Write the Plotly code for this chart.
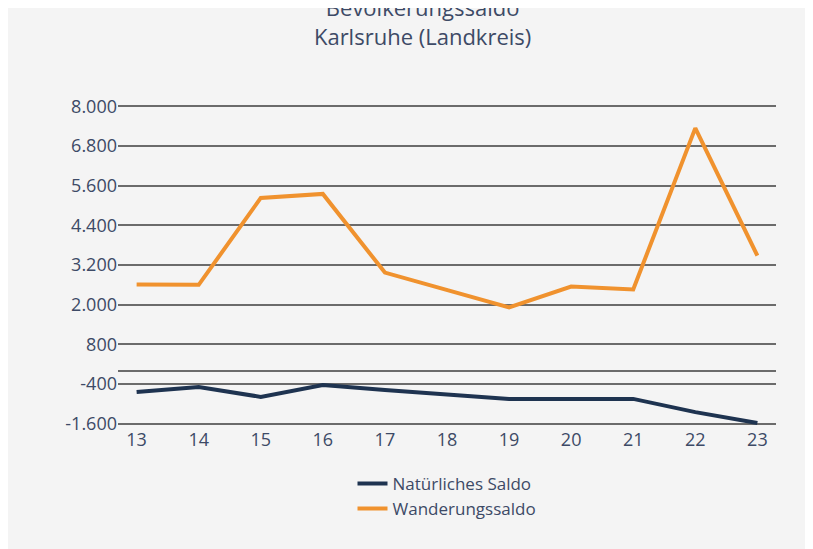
import plotly.graph_objects as go

years = ["13","14","15","16","17","18","19","20","21","22","23"]
natuerlich = [-640,-490,-790,-430,-580,-730,-850,-850,-850,-1250,-1580]
wanderung = [2610,2600,5230,5350,2970,2460,1920,2550,2460,7340,3480]
tickvals = [8000,6800,5600,4400,3200,2000,800,-400,-1600]
ticktext = ["8.000","6.800","5.600","4.400","3.200","2.000","800","-400","-1.600"]

font_c = "#3d4a66"
fig = go.Figure()
fig.add_trace(go.Scatter(x=years, y=natuerlich, mode="lines", name="Natürliches Saldo",
                         line=dict(color="#1e3350", width=4)))
fig.add_trace(go.Scatter(x=years, y=wanderung, mode="lines", name="Wanderungssaldo",
                         line=dict(color="#f0922e", width=4)))
fig.update_layout(
    width=813, height=549,
    paper_bgcolor="#f4f4f4", plot_bgcolor="#f4f4f4",
    margin=dict(l=110, r=45, t=95, b=130),
    title=dict(text="Bevölkerungssaldo<br>Karlsruhe (Landkreis)", x=0.51, y=0.985, yanchor="top",
               font=dict(size=22, color=font_c, family="Open Sans")),
    font=dict(family="Open Sans", color=font_c, size=18),
    showlegend=True,
    xaxis=dict(showgrid=False, zeroline=False, tickfont=dict(size=18), range=[-0.3, 10.3]),
    yaxis=dict(range=[-1700, 8100], tickvals=tickvals, ticktext=ticktext,
               gridcolor="#6b6b6b", gridwidth=2, zeroline=True, zerolinecolor="#6b6b6b",
               zerolinewidth=2, tickfont=dict(size=18)),
    legend=dict(orientation="v", x=0.5, xanchor="center", y=-0.12, yanchor="top",
                font=dict(size=17), bgcolor="rgba(0,0,0,0)", tracegroupgap=0),
)
fig.write_html("out.html")
